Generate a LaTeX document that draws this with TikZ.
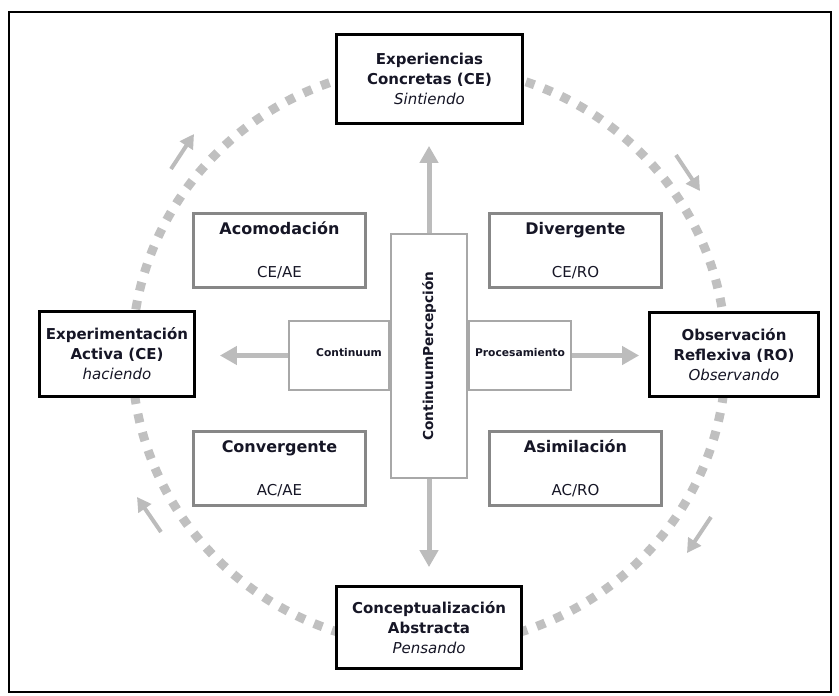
\documentclass[tikz,border=0pt]{standalone}
\usepackage{fontspec}
\setmainfont{DejaVu Sans}
\usepackage{graphicx}
\usetikzlibrary{arrows.meta}

\definecolor{inkKolb}{RGB}{22,22,38}
\definecolor{ringGray}{RGB}{192,192,192}
\definecolor{arrowGray}{RGB}{188,188,188}
\definecolor{boxGray}{RGB}{135,135,135}
\definecolor{axisGray}{RGB}{168,168,168}

\begin{document}
\begin{tikzpicture}[x=1pt,y=-1pt,
		stage/.style={draw=black, line width=2.8pt, fill=white, align=center, text=inkKolb,
			font=\fontsize{15}{20}\selectfont},
		style/.style={draw=boxGray, line width=2.5pt, fill=white, align=center, text=inkKolb,
			minimum width=172pt, minimum height=74pt, font=\fontsize{15}{18}\selectfont},
		axisbox/.style={draw=axisGray, line width=2pt, fill=white, text=inkKolb, inner sep=0pt},
		flowarrow/.style={draw=arrowGray, line width=5pt, -{Triangle[length=17pt,width=18pt]}},
		cyclearrow/.style={draw=arrowGray, line width=4pt, -{Triangle[length=14pt,width=15pt]}},
		dotring/.style={draw=ringGray, line width=9pt, dash pattern=on 9pt off 10pt}]

	\useasboundingbox (0,0) rectangle (839,696);
	\draw[line width=1.5pt] (9,12) rectangle (831,692);

	% ciclo
	\draw[dotring] (429,356) ellipse [x radius=297, y radius=290];
	\coordinate (c1a) at (171,169); \coordinate (c1b) at (194,134);
	\coordinate (c2a) at (676,155); \coordinate (c2b) at (700,191);
	\coordinate (c3a) at (711,517); \coordinate (c3b) at (687,553);
	\coordinate (c4a) at (161,532); \coordinate (c4b) at (137,497);
	\draw[cyclearrow] (c1a) -- (c1b);
	\draw[cyclearrow] (c2a) -- (c2b);
	\draw[cyclearrow] (c3a) -- (c3b);
	\draw[cyclearrow] (c4a) -- (c4b);

	% etapas
	\node[stage, minimum width=186pt, minimum height=89pt] (ce) at (429.5,79)
		{\textbf{Experiencias}\\\textbf{Concretas (CE)}\\\textit{Sintiendo}};
	\node[stage, minimum width=155pt, minimum height=85pt] (ae) at (117,354)
		{\textbf{Experimentación}\\\textbf{Activa (CE)}\\\textit{haciendo}};
	\node[stage, minimum width=169pt, minimum height=84pt] (ro) at (734,354.5)
		{\textbf{Observación}\\\textbf{Reflexiva (RO)}\\\textit{Observando}};
	\node[stage, minimum width=185pt, minimum height=82pt] (ac) at (429,627.5)
		{\textbf{Conceptualización}\\\textbf{Abstracta}\\\textit{Pensando}};

	% estilos
	\node[style] (acom) at (279.5,250.5)
		{\textbf{\fontsize{16}{18}\selectfont Acomodación}\\[25pt]CE/AE};
	\node[style] (dive) at (575.5,250.5)
		{\textbf{\fontsize{16}{18}\selectfont Divergente}\\[25pt]CE/RO};
	\node[style] (conv) at (279.5,468.5)
		{\textbf{\fontsize{16}{18}\selectfont Convergente}\\[25pt]AC/AE};
	\node[style] (asim) at (575.5,468.5)
		{\textbf{\fontsize{16}{18}\selectfont Asimilación}\\[25pt]AC/RO};

	% ejes
	\node[axisbox, minimum width=76pt, minimum height=244pt] (cp) at (429,356)
		{\rotatebox{90}{\fontsize{13.7}{16}\selectfont\bfseries ContinuumPercepción}};
	\node[axisbox, anchor=east, minimum width=100pt, minimum height=69pt] (hl) at ([yshift=0.5pt]cp.west)
		{\raisebox{6pt}{\hspace*{20pt}\fontsize{10.7}{13}\selectfont\bfseries Continuum}};
	\node[axisbox, anchor=west, minimum width=102pt, minimum height=69pt] (hr) at ([yshift=0.5pt]cp.east)
		{\raisebox{6pt}{\fontsize{10.7}{13}\selectfont\bfseries Procesamiento}};

	\draw[flowarrow, shorten >=21pt] (cp.north) -- (cp.north |- ce.south);
	\draw[flowarrow, shorten >=18pt] (cp.south) -- (cp.south |- ac.north);
	\draw[flowarrow, shorten >=24pt] (hl.west) -- (hl.west -| ae.east);
	\draw[flowarrow, shorten >=9pt] (hr.east) -- (hr.east -| ro.west);

\end{tikzpicture}
\end{document}
